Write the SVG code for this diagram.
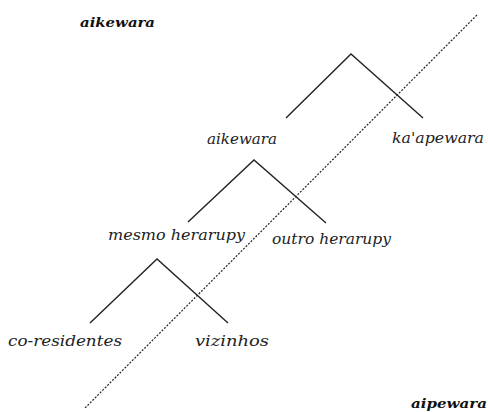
<svg xmlns="http://www.w3.org/2000/svg" width="488" height="412" viewBox="0 0 488 412">
<style>
.t{font-family:"DejaVu Serif",serif;font-style:italic;font-size:14px;fill:#222}
.b{font-family:"DejaVu Serif",serif;font-style:italic;font-weight:bold;font-size:13px;fill:#111}
.e{stroke:#222;stroke-width:1.4;fill:none}
.d{stroke:#222;stroke-width:1.2;stroke-dasharray:2 1.5;fill:none}
</style>
<rect width="488" height="412" fill="#fff"/>
<g id="connectors">
<polyline class="e" points="286,118 351,54 423,118"/>
<polyline class="e" points="188,222 254,160 326,223"/>
<polyline class="e" points="90,323 157,259 228,323"/>
<line class="d" x1="477" y1="15" x2="85" y2="408"/>
</g>
<g id="title-aikewara"><text class="b" x="80" y="27" textLength="75" lengthAdjust="spacingAndGlyphs">aikewara</text></g>
<g id="aikewara"><text class="t" x="207" y="144" textLength="70" lengthAdjust="spacingAndGlyphs">aikewara</text></g>
<g id="kaapewara"><text class="t" x="392" y="143" textLength="92" lengthAdjust="spacingAndGlyphs">ka'apewara</text></g>
<g id="mesmo-herarupy"><text class="t" x="108" y="240" textLength="137" lengthAdjust="spacingAndGlyphs">mesmo herarupy</text></g>
<g id="outro-herarupy"><text class="t" x="272" y="244" textLength="119" lengthAdjust="spacingAndGlyphs">outro herarupy</text></g>
<g id="co-residentes"><text class="t" x="8" y="346" textLength="114" lengthAdjust="spacingAndGlyphs">co-residentes</text></g>
<g id="vizinhos"><text class="t" x="195" y="346" textLength="74" lengthAdjust="spacingAndGlyphs">vizinhos</text></g>
<g id="aipewara"><text class="b" x="411" y="408" textLength="76" lengthAdjust="spacingAndGlyphs">aipewara</text></g>
</svg>
